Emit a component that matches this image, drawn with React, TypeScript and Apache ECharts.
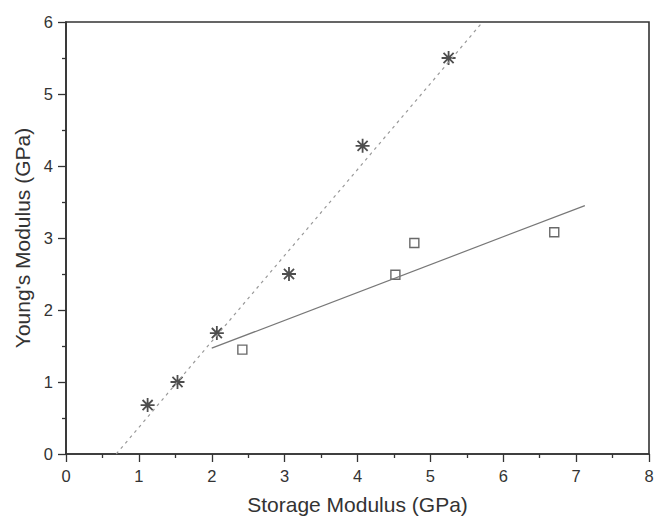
import React, { useEffect, useRef } from "react";
import * as echarts from "echarts";

const starX = [1.12, 1.53, 2.07, 3.06, 4.07, 5.25];
const starY = [0.68, 1.0, 1.68, 2.5, 4.28, 5.5];
const squareX = [2.42, 4.52, 4.78, 6.7];
const squareY = [1.45, 2.49, 2.93, 3.08];
const dottedFitX = [0.69, 5.7];
const dottedFitY = [0, 5.98];
const solidFitX = [2.0, 7.12];
const solidFitY = [1.47, 3.45];
const xTicks = [0, 1, 2, 3, 4, 5, 6, 7, 8];
const yTicks = [0, 1, 2, 3, 4, 5, 6];

const zip = (a: number[], b: number[]) => a.map((v, i) => [v, b[i]]);

const STAR = "path://M0 -5 L0 5 M-5 0 L5 0 M-3.6 -3.6 L3.6 3.6 M-3.6 3.6 L3.6 -3.6";
const FONT = "Liberation Sans, Arial, sans-serif";

export default function App() {
  const ref = useRef<HTMLDivElement>(null);
  useEffect(() => {
    const chart = echarts.init(ref.current!, null, { renderer: "svg" });
    const axisCommon = {
      axisLine: { show: true, lineStyle: { color: "#333", width: 1.6 } },
      axisTick: { show: true, inside: false, length: 8, lineStyle: { color: "#333", width: 1.3 } },
      minorTick: { show: true, splitNumber: 2, length: 4, lineStyle: { color: "#333", width: 1.3 } },
      splitLine: { show: false },
      axisLabel: { color: "#333", fontSize: 16.5, fontFamily: FONT, margin: 13 },
      nameTextStyle: { color: "#333", fontSize: 21, fontFamily: FONT },
      nameLocation: "middle" as const,
    };
    chart.setOption({
      animation: false,
      backgroundColor: "#fff",
      grid: {
        left: 66,
        right: 5,
        top: 22,
        bottom: 63,
        show: true,
        borderColor: "#333",
        borderWidth: 1.6,
        outerBoundsMode: "none",
        containLabel: false,
      },
      xAxis: {
        ...axisCommon,
        type: "value",
        min: xTicks[0],
        max: xTicks[xTicks.length - 1],
        interval: 1,
        name: "Storage Modulus (GPa)",
        nameGap: 40,
      },
      yAxis: {
        ...axisCommon,
        type: "value",
        min: yTicks[0],
        max: yTicks[yTicks.length - 1],
        interval: 1,
        name: "Young's Modulus (GPa)",
        nameGap: 33,
      },
      series: [
        {
          type: "line",
          data: zip(dottedFitX, dottedFitY),
          symbol: "none",
          lineStyle: { color: "#999", width: 1.2, type: [3, 4] },
          silent: true,
        },
        {
          type: "line",
          data: zip(solidFitX, solidFitY),
          symbol: "none",
          lineStyle: { color: "#777", width: 1.2 },
          silent: true,
        },
        {
          type: "scatter",
          data: zip(starX, starY),
          symbol: STAR,
          symbolSize: 14,
          itemStyle: { color: "none", borderColor: "#222", borderWidth: 1.8 },
        },
        {
          type: "scatter",
          data: zip(squareX, squareY),
          symbol: "rect",
          symbolSize: 9,
          itemStyle: { color: "#fff", borderColor: "#444", borderWidth: 1.4 },
        },
      ],
    });
    return () => chart.dispose();
  }, []);
  return (
    <div
      ref={ref}
      style={{ position: "fixed", left: 0, top: 0, width: 654, height: 517 }}
    />
  );
}
